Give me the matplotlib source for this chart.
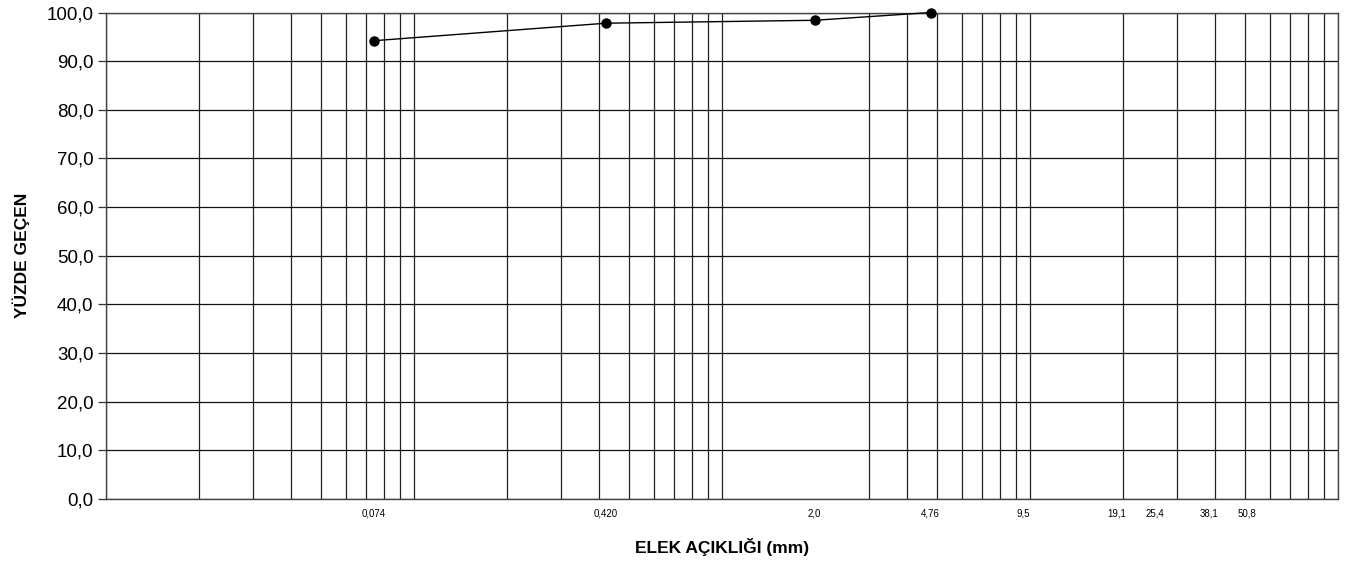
import matplotlib
matplotlib.use("Agg")
import matplotlib.pyplot as plt
from matplotlib.ticker import FixedLocator, NullFormatter, LogLocator

plt.rcParams['font.family'] = ['Liberation Sans', 'DejaVu Sans']

sieve_sizes = [0.074, 0.420, 2.0, 4.76]
percent_passing = [94.2, 97.8, 98.4, 100.0]

tick_values = [0.074, 0.420, 2.0, 4.76, 9.5, 19.1, 25.4, 38.1, 50.8]
tick_labels = ["0,074", "0,420", "2,0", "4,76", "9,5", "19,1", "25,4", "38,1", "50,8"]

y_ticks = [0, 10, 20, 30, 40, 50, 60, 70, 80, 90, 100]
y_labels = [("%.1f" % v).replace(".", ",") for v in y_ticks]

fig = plt.figure(figsize=(13.52, 5.63), dpi=100)
ax = fig.add_axes([106/1352, 1 - 499/563, (1338-106)/1352, (499-12.5)/563])

ax.set_xscale('log')
ax.set_xlim(0.01, 100)
ax.set_ylim(0, 100)

# vertical log grid lines (1..9 per decade)
ax.xaxis.set_minor_locator(LogLocator(base=10, subs=[1, 2, 3, 4, 5, 6, 7, 8, 9], numticks=50))
ax.xaxis.set_minor_formatter(NullFormatter())
ax.grid(True, which='minor', axis='x', color='#222222', linewidth=0.9)
ax.tick_params(axis='x', which='minor', length=0)

ax.xaxis.set_major_locator(FixedLocator(tick_values))
ax.set_xticklabels(tick_labels, fontsize=7)
ax.tick_params(axis='x', which='major', length=0, pad=7)

ax.set_yticks(y_ticks)
ax.set_yticklabels(y_labels, fontsize=13.5)
ax.tick_params(axis='y', which='major', length=6, width=0.9, color='#333333', pad=3, direction='out')
ax.grid(True, which='major', axis='y', color='#111111', linewidth=0.9)

for s in ax.spines.values():
    s.set_color('#444444')
    s.set_linewidth(1.0)

ax.plot(sieve_sizes, percent_passing, color='black', linewidth=1.0,
        marker='o', markersize=6.5, markerfacecolor='black', markeredgecolor='black',
        clip_on=False, zorder=5)

ax.set_xlabel("ELEK AÇIKLIĞI (mm)", fontsize=12.5, fontweight='bold', labelpad=14)
ax.set_ylabel("YÜZDE GEÇEN", fontsize=12.5, fontweight='bold', labelpad=12)

fig.savefig("out.png", dpi=100)
